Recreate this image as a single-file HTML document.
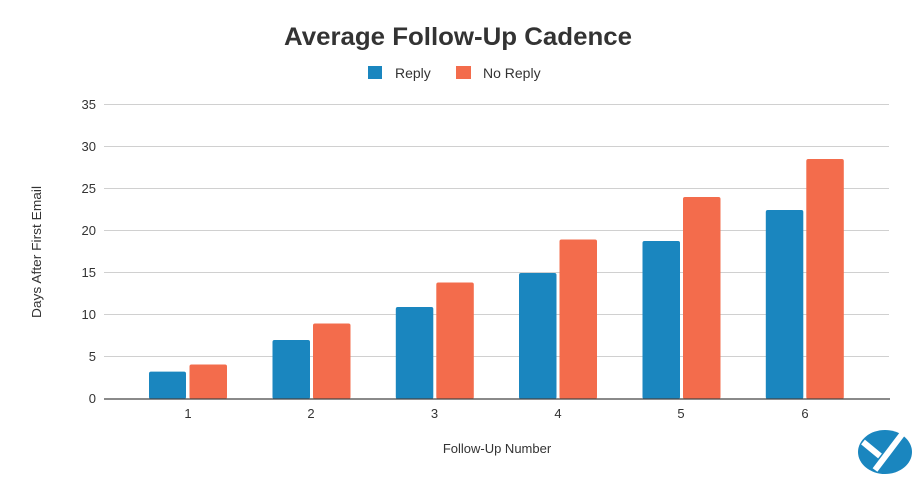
<!DOCTYPE html>
<html><head><meta charset="utf-8"><style>
html,body{margin:0;padding:0;background:#fff}
svg{display:block;font-family:"Liberation Sans",Arial,sans-serif}
</style></head><body>
<svg width="915" height="479" viewBox="0 0 915 479" xmlns="http://www.w3.org/2000/svg">
<rect width="915" height="479" fill="#fff"/>
<text x="458" y="45" text-anchor="middle" font-size="25" font-weight="bold" fill="#333" textLength="348" lengthAdjust="spacingAndGlyphs">Average Follow-Up Cadence</text>
<rect x="368" y="66" width="14" height="13" fill="#1a86bf"/>
<text x="395" y="78" font-size="14" fill="#333">Reply</text>
<rect x="456" y="66" width="15" height="13" fill="#f36c4c"/>
<text x="483" y="78" font-size="14" fill="#333">No Reply</text>
<g stroke="#d0d0d0" stroke-width="1">
<line x1="104" y1="104.5" x2="889" y2="104.5"/>
<line x1="104" y1="146.5" x2="889" y2="146.5"/>
<line x1="104" y1="188.5" x2="889" y2="188.5"/>
<line x1="104" y1="230.5" x2="889" y2="230.5"/>
<line x1="104" y1="272.5" x2="889" y2="272.5"/>
<line x1="104" y1="314.5" x2="889" y2="314.5"/>
<line x1="104" y1="356.5" x2="889" y2="356.5"/>
</g>
<g font-size="13" fill="#333" text-anchor="end">
<text x="96" y="109">35</text><text x="96" y="151">30</text><text x="96" y="193">25</text>
<text x="96" y="235">20</text><text x="96" y="277">15</text><text x="96" y="319">10</text>
<text x="96" y="361">5</text><text x="96" y="403">0</text>
</g>
<g fill="#1a86bf">
<rect x="149" y="371.6" width="37" height="27.4" rx="2"/>
<rect x="272.5" y="340" width="37.5" height="59" rx="2"/>
<rect x="395.8" y="307" width="37.5" height="92" rx="2"/>
<rect x="519" y="273" width="37.5" height="126" rx="2"/>
<rect x="642.5" y="241" width="37.5" height="158" rx="2"/>
<rect x="765.8" y="210" width="37.5" height="189" rx="2"/>
</g>
<g fill="#f36c4c">
<rect x="189.5" y="364.5" width="37.5" height="34.5" rx="2"/>
<rect x="313" y="323.5" width="37.5" height="75.5" rx="2"/>
<rect x="436.3" y="282.5" width="37.5" height="116.5" rx="2"/>
<rect x="559.5" y="239.5" width="37.5" height="159.5" rx="2"/>
<rect x="683" y="197" width="37.5" height="202" rx="2"/>
<rect x="806.3" y="159" width="37.5" height="240" rx="2"/>
</g>
<line x1="104" y1="399" x2="890" y2="399" stroke="#444" stroke-width="1.2"/>
<g font-size="13" fill="#333" text-anchor="middle">
<text x="188" y="418">1</text><text x="311" y="418">2</text><text x="434.5" y="418">3</text>
<text x="558" y="418">4</text><text x="681" y="418">5</text><text x="805" y="418">6</text>
</g>
<text x="497" y="453" text-anchor="middle" font-size="13" fill="#333">Follow-Up Number</text>
<text transform="translate(41,252) rotate(-90)" text-anchor="middle" font-size="13" fill="#333" textLength="132" lengthAdjust="spacingAndGlyphs">Days After First Email</text>
<ellipse cx="885" cy="452" rx="27" ry="22" fill="#1a86bf"/>
<path d="M863 442 L880 456 M903 433 L875 470" stroke="#fff" stroke-width="6" fill="none"/>
</svg>
</body></html>
